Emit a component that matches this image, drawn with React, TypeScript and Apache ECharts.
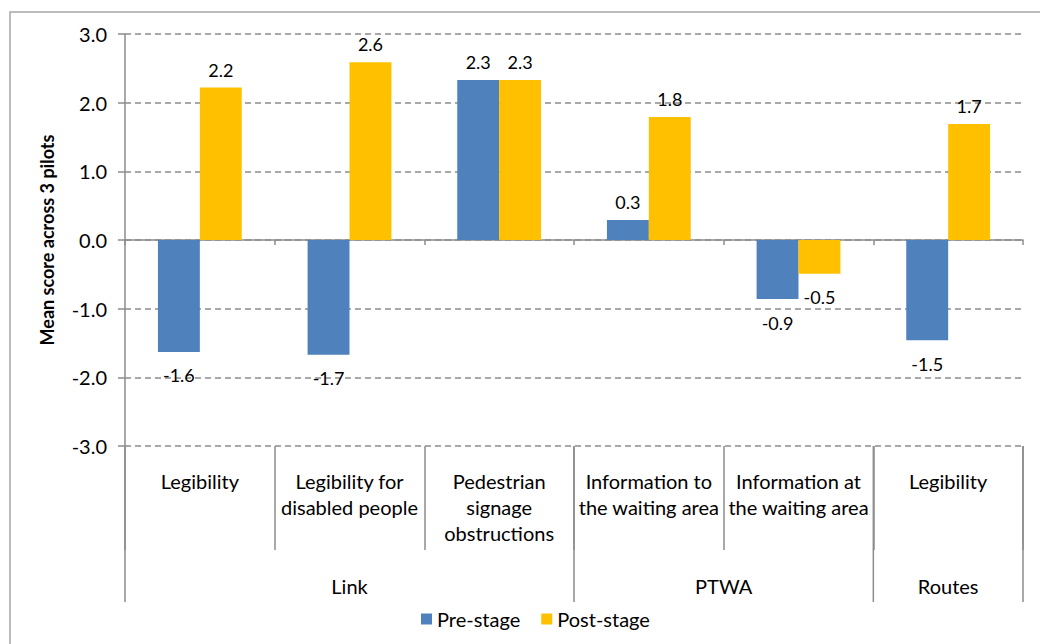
import React, { useEffect, useRef } from "react";
import * as echarts from "echarts";

const categories = [
  "Legibility",
  "Legibility for\ndisabled people",
  "Pedestrian\nsignage\nobstructions",
  "Information to\nthe waiting area",
  "Information at\nthe waiting area",
  "Legibility",
];
const groupNames = ["Link", "PTWA", "Routes"];
const groupSizes = [3, 2, 1];
const seriesNames = ["Pre-stage", "Post-stage"];
const preStage = [-1.63, -1.67, 2.33, 0.29, -0.86, -1.46];
const postStage = [2.22, 2.59, 2.33, 1.79, -0.49, 1.69];
const yMin = -3;
const yMax = 3;
const yInterval = 1;
const yTitle = "Mean score across 3 pilots";

const GRAY = "#8c8c8c";
const FONT = "Lato";
const COLORS = ["#4F81BD", "#FFC000"];

export default function App() {
  const ref = useRef<HTMLDivElement>(null);

  useEffect(() => {
    if (!ref.current) return;
    const chart = echarts.init(ref.current, null, { renderer: "svg" });

    const mkData = (arr: number[]) =>
      arr.map((v) => ({
        value: v,
        label: { position: v >= 0 ? "top" : "bottom", distance: v >= 0 ? 9 : 14.5 },
      }));

    const seriesData = [preStage, postStage];

    chart.setOption({
      animation: false,
      textStyle: { fontFamily: FONT },
      grid: { left: 125, right: 17, top: 34, bottom: 198, containLabel: false },
      legend: {
        data: seriesNames,
        left: 416,
        top: 604,
        itemWidth: 11,
        itemHeight: 11,
        itemGap: 21,
        icon: "rect",
        textStyle: { fontSize: 20, fontFamily: FONT, color: "#000" },
      },
      xAxis: [
        {
          type: "category",
          data: categories,
          position: "bottom",
          axisLine: { show: true, onZero: true, lineStyle: { color: GRAY, width: 1.5 } },
          axisTick: { show: true, length: 5, interval: 0, lineStyle: { color: GRAY, width: 1.5 } },
          axisLabel: { show: false },
          splitLine: { show: false },
        },
        {
          type: "category",
          data: categories,
          position: "bottom",
          axisLine: { show: false, onZero: false },
          axisTick: { show: true, length: 104, interval: 0, lineStyle: { color: GRAY, width: 1.5 } },
          axisLabel: {
            interval: 0,
            margin: 22,
            fontSize: 20,
            lineHeight: 26,
            color: "#000",
            fontFamily: FONT,
            verticalAlign: "top",
          },
          splitLine: { show: false },
        },
      ],
      yAxis: {
        type: "value",
        min: yMin,
        max: yMax,
        interval: yInterval,
        name: yTitle,
        nameLocation: "middle",
        nameGap: 69,
        nameRotate: 90,
        nameTextStyle: { fontSize: 18, fontWeight: "bold", color: "#000", fontFamily: FONT },
        axisLine: { show: true, lineStyle: { color: GRAY, width: 1.5 } },
        axisTick: { show: true, length: 7, lineStyle: { color: GRAY, width: 1.5 } },
        axisLabel: {
          formatter: (v: number) => v.toFixed(1),
          fontSize: 20,
          margin: 18,
          color: "#000",
          fontFamily: FONT,
        },
        splitLine: { show: true, lineStyle: { color: GRAY, width: 1.5, type: [6, 4] } },
      },
      series: seriesNames.map((name, i) => ({
        name,
        type: "bar",
        xAxisIndex: 0,
        data: mkData(seriesData[i]),
        barGap: "0%",
        barCategoryGap: "44%",
        itemStyle: { color: COLORS[i] },
        label: {
          show: true,
          fontSize: 18,
          color: "#000",
          fontFamily: FONT,
          formatter: (p: any) => Number(p.value).toFixed(1),
        },
      })),
    });

    // group-level axis drawn from the library's scales
    const xAt = (i: number) => chart.convertToPixel({ xAxisIndex: 0 }, i) as number;
    const bw = xAt(1) - xAt(0);
    const yBot = chart.convertToPixel({ yAxisIndex: 0 }, yMin) as number;
    const bounds: number[] = [xAt(0) - bw / 2];
    let acc = 0;
    groupSizes.forEach((s) => {
      acc += s;
      bounds.push(xAt(acc - 1) + bw / 2);
    });

    const graphics: any[] = [
      {
        type: "rect",
        silent: true,
        shape: { x: 10, y: 12, width: 1200, height: 800 },
        style: { fill: "none", stroke: "#a6a6a6", lineWidth: 1.5 },
      },
    ];
    bounds.forEach((bx) => {
      graphics.push({
        type: "line",
        silent: true,
        shape: { x1: bx, y1: yBot, x2: bx, y2: yBot + 156 },
        style: { stroke: GRAY, lineWidth: 1.5 },
      });
    });
    groupNames.forEach((g, i) => {
      graphics.push({
        type: "text",
        silent: true,
        x: (bounds[i] + bounds[i + 1]) / 2,
        y: yBot + 140,
        style: {
          text: g,
          fontSize: 20,
          fontFamily: FONT,
          fill: "#000",
          align: "center",
          verticalAlign: "middle",
        },
      });
    });
    chart.setOption({ graphic: graphics });

    return () => chart.dispose();
  }, []);

  return (
    <div
      ref={ref}
      style={{ position: "absolute", left: 0, top: 0, width: 1040, height: 644, background: "#fff" }}
    />
  );
}
